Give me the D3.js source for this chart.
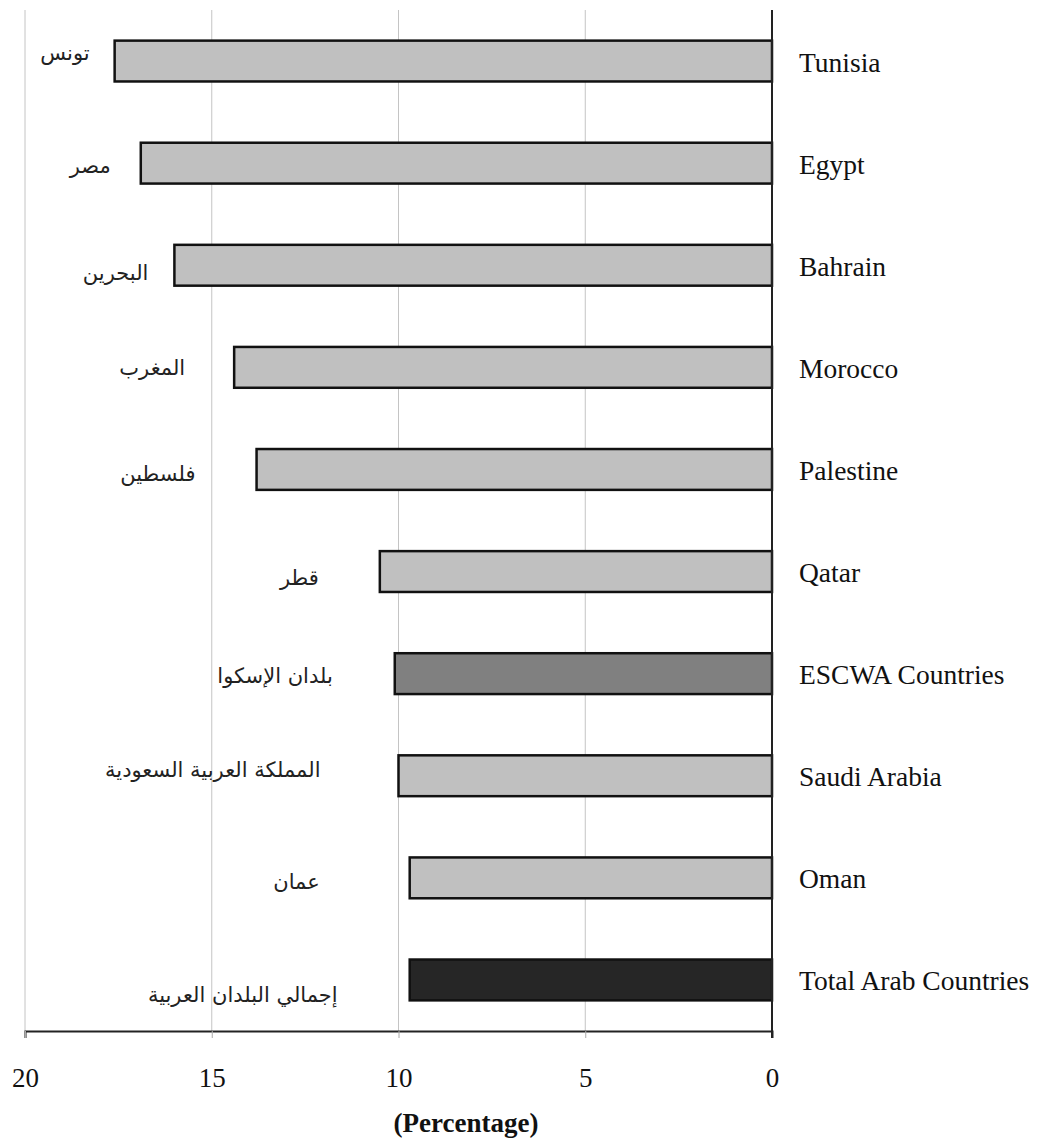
<!DOCTYPE html>
<html>
<head>
<meta charset="utf-8">
<script src="https://cdn.jsdelivr.net/npm/d3@7"></script>
<style>
  body { margin: 0; background: #fff; }
  svg { display: block; }
</style>
</head>
<body>
<script>
(function () {
  var countries = ['Tunisia', 'Egypt', 'Bahrain', 'Morocco', 'Palestine', 'Qatar',
    'ESCWA Countries', 'Saudi Arabia', 'Oman', 'Total Arab Countries'];
  var arabicNames = ['تونس', 'مصر', 'البحرين', 'المغرب', 'فلسطين', 'قطر',
    'بلدان الإسكوا', 'المملكة العربية السعودية', 'عمان', 'إجمالي البلدان العربية'];
  var values = [17.6, 16.9, 16.0, 14.4, 13.8, 10.5, 10.1, 10.0, 9.7, 9.7];
  var groups = ['country', 'country', 'country', 'country', 'country', 'country',
    'escwa', 'country', 'country', 'arab'];
  var tickValues = [20, 15, 10, 5, 0];

  // label placement (pixels): gap left of bar start, vertical nudge
  var arGap = [25, 30, 26, 49, 61, 61, 62, 78, 90, 72];
  var arDy = [-8, 2, 7, 0, 4, 6, 2, -6, 4, 15];

  var width = 1041,
    height = 1138,
    left = 25,
    right = 772,
    top = 10,
    bottom = 1031;

  var fill = d3.scaleOrdinal()
    .domain(['country', 'escwa', 'arab'])
    .range(['#c0c0c0', '#808080', '#262626']);

  var x = d3.scaleLinear()
    .domain([20, 0])
    .range([left, right]);

  var y = d3.scaleBand()
    .domain(countries)
    .range([top, bottom])
    .paddingInner(0.6)
    .paddingOuter(0.3);

  var svg = d3.select('body')
    .append('svg')
    .attr('width', width)
    .attr('height', height);

  // gridlines
  svg.append('g')
    .selectAll('line')
    .data(tickValues.filter(function (d) { return d !== 0; }))
    .enter()
    .append('line')
    .attr('x1', function (d) { return x(d); })
    .attr('x2', function (d) { return x(d); })
    .attr('y1', top)
    .attr('y2', bottom)
    .attr('stroke', '#c4c4c4')
    .attr('stroke-width', 1);

  // bars
  svg.append('g')
    .selectAll('rect')
    .data(values)
    .enter()
    .append('rect')
    .attr('x', function (d) { return x(d); })
    .attr('y', function (d, i) { return y(countries[i]); })
    .attr('width', function (d) { return x(0) - x(d); })
    .attr('height', y.bandwidth())
    .attr('fill', function (d, i) { return fill(groups[i]); })
    .attr('stroke', '#111')
    .attr('stroke-width', 2.5);

  // arabic labels
  svg.append('g')
    .selectAll('text')
    .data(values)
    .enter()
    .append('text')
    .attr('x', function (d, i) { return x(d) - arGap[i]; })
    .attr('y', function (d, i) { return y(countries[i]) + y.bandwidth() / 2 + arDy[i]; })
    .attr('dy', '0.35em')
    .attr('text-anchor', 'end')
    .style('font-family', '"DejaVu Sans", sans-serif')
    .style('font-size', '21px')
    .attr('fill', '#222')
    .text(function (d, i) { return arabicNames[i]; });

  // bottom axis
  var xAxis = d3.axisBottom(x)
    .tickValues(tickValues)
    .tickSize(7)
    .tickPadding(30);

  var gx = svg.append('g')
    .attr('transform', 'translate(0,' + bottom + ')')
    .call(xAxis);
  gx.select('.domain').attr('stroke', '#222').attr('stroke-width', 2);
  gx.selectAll('.tick line').attr('stroke', '#aaa');
  gx.selectAll('.tick text')
    .attr('fill', '#111')
    .style('font-family', '"Liberation Serif", "Times New Roman", serif')
    .style('font-size', '27px');

  // right-hand axis at zero with english names
  var yAxis = d3.axisRight(y)
    .tickSize(0)
    .tickPadding(27);

  var gy = svg.append('g')
    .attr('transform', 'translate(' + x(0) + ',0)')
    .call(yAxis);
  gy.select('.domain')
    .attr('d', 'M0,' + top + 'V' + (bottom + 7))
    .attr('stroke', '#222')
    .attr('stroke-width', 2);
  gy.selectAll('.tick text')
    .attr('fill', '#111')
    .attr('dy', '0.38em')
    .style('font-family', '"Liberation Serif", "Times New Roman", serif')
    .style('font-size', '27.5px');

  svg.append('text')
    .attr('x', 466)
    .attr('y', 1132)
    .attr('text-anchor', 'middle')
    .style('font-family', '"Liberation Serif", "Times New Roman", serif')
    .style('font-size', '27px')
    .style('font-weight', 'bold')
    .attr('fill', '#111')
    .text('(Percentage)');
}());
</script>
</body>
</html>
